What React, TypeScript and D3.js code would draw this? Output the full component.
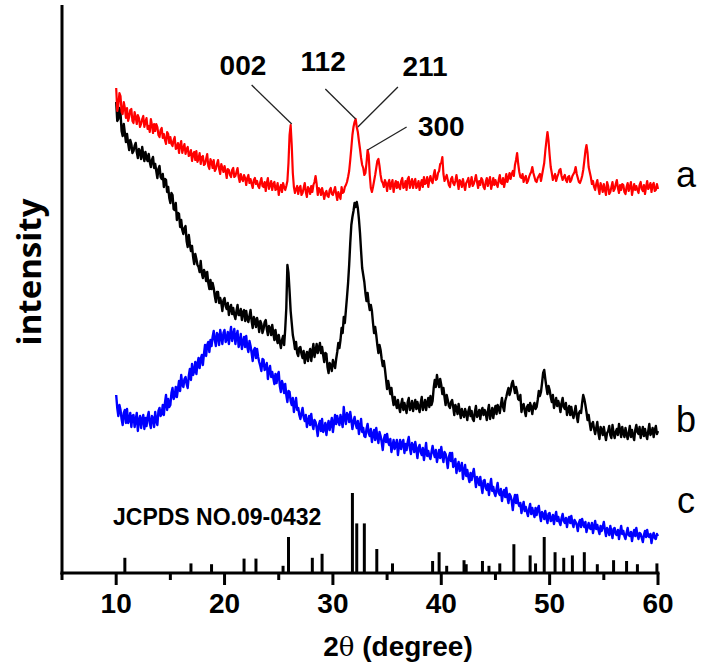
import React from "react";
import * as d3 from "d3";

// 2θ sampling grid of the measured patterns (degrees)
const THETA_START = 10;
const THETA_STEP = 0.1;

// a : red pattern (intensity, a.u.), one row per degree
const seriesA = [
  485, 462, 468, 480, 477, 461, 459, 471, 465, 455,
  465, 452, 456, 463, 464, 452, 450, 461, 456, 449,
  458, 455, 446, 449, 454, 457, 446, 451, 455, 444,
  447, 441, 454, 448, 440, 449, 442, 449, 446, 438,
  436, 443, 445, 435, 439, 433, 429, 441, 439, 430,
  436, 429, 427, 433, 436, 424, 425, 430, 420, 428,
  432, 420, 425, 429, 419, 424, 426, 417, 418, 423,
  412, 419, 421, 413, 422, 411, 414, 420, 409, 416,
  417, 408, 409, 414, 419, 407, 404, 414, 411, 405,
  413, 402, 404, 409, 413, 404, 399, 409, 405, 401,
  407, 402, 395, 404, 403, 398, 396, 403, 405, 396,
  397, 401, 405, 396, 391, 399, 394, 392, 398, 395,
  388, 395, 398, 390, 394, 389, 385, 393, 395, 389,
  392, 387, 385, 391, 395, 387, 386, 391, 382, 390,
  395, 384, 388, 392, 383, 389, 391, 383, 384, 390,
  378, 385, 388, 381, 390, 386, 383, 387, 392, 410,
  438, 448, 428, 400, 386, 380, 384, 387, 379, 385,
  387, 378, 380, 385, 390, 381, 376, 386, 384, 379,
  387, 381, 388, 391, 397, 389, 378, 385, 383, 378,
  385, 380, 374, 380, 382, 377, 376, 383, 385, 379,
  378, 382, 386, 379, 373, 381, 377, 374, 386, 380,
  381, 386, 388, 391, 396, 402, 413, 425, 438, 446,
  451, 454, 446, 441, 432, 424, 415, 408, 405, 398,
  400, 410, 423, 418, 398, 385, 381, 386, 392, 398,
  405, 412, 414, 407, 398, 392, 390, 386, 393, 390,
  382, 390, 393, 384, 389, 393, 381, 388, 392, 385,
  391, 386, 384, 392, 395, 385, 386, 392, 383, 394,
  396, 385, 390, 394, 385, 391, 394, 385, 387, 392,
  383, 389, 393, 386, 396, 389, 390, 396, 386, 393,
  397, 392, 390, 398, 403, 393, 394, 400, 402, 409,
  410, 416, 399, 392, 395, 398, 393, 388, 386, 394,
  396, 390, 388, 392, 398, 391, 384, 393, 391, 386,
  394, 388, 383, 390, 392, 395, 386, 390, 396, 387,
  389, 393, 398, 391, 385, 392, 388, 395, 393, 386,
  384, 391, 395, 387, 392, 396, 384, 389, 395, 388,
  393, 389, 386, 393, 398, 390, 389, 395, 386, 392,
  399, 391, 395, 400, 394, 399, 402, 397, 408, 413,
  420, 409, 401, 396, 395, 399, 391, 395, 397, 390,
  392, 396, 399, 401, 406, 400, 396, 392, 391, 395,
  397, 399, 392, 398, 404, 410, 422, 432, 441, 432,
  418, 406, 400, 393, 396, 399, 392, 396, 399, 403,
  404, 397, 393, 396, 398, 393, 391, 396, 397, 391,
  393, 397, 399, 401, 406, 399, 395, 391, 390, 393,
  397, 403, 412, 422, 428, 420, 406, 401, 396, 389,
  392, 386, 383, 389, 393, 385, 379, 390, 386, 381,
  389, 383, 378, 391, 387, 379, 381, 386, 391, 382,
  384, 389, 393, 385, 380, 388, 383, 389, 388, 381,
  379, 386, 390, 382, 386, 391, 378, 384, 389, 383,
  387, 383, 380, 388, 391, 384, 382, 388, 379, 386,
  392, 384, 386, 390, 381, 388, 390, 382, 383, 389,
  384,
];

// b : black pattern
const seriesB = [
  471, 452, 454, 465, 460, 442, 437, 449, 440, 431,
  439, 430, 423, 433, 429, 420, 422, 427, 430, 421,
  415, 424, 422, 414, 426, 418, 412, 421, 415, 412,
  419, 411, 406, 413, 416, 405, 409, 402, 395, 404,
  407, 396, 394, 399, 386, 394, 393, 381, 386, 375,
  370, 380, 378, 364, 363, 370, 353, 360, 359, 346,
  353, 343, 339, 345, 347, 332, 326, 338, 329, 322,
  327, 316, 309, 319, 314, 308, 306, 301, 312, 300,
  295, 303, 300, 292, 301, 290, 284, 293, 284, 290,
  285, 277, 271, 281, 281, 270, 275, 270, 262, 273,
  275, 267, 264, 270, 258, 265, 268, 259, 265, 258,
  254, 262, 268, 258, 258, 264, 253, 261, 263, 252,
  262, 254, 251, 257, 263, 252, 245, 256, 253, 246,
  255, 250, 241, 252, 249, 240, 244, 251, 253, 244,
  238, 247, 245, 238, 248, 240, 233, 243, 235, 230,
  238, 231, 225, 233, 237, 228, 244, 265, 308, 300,
  282, 262, 250, 238, 232, 224, 231, 220, 217, 225,
  226, 219, 215, 222, 210, 217, 221, 212, 220, 224,
  212, 221, 229, 216, 222, 229, 220, 225, 230, 220,
  226, 218, 211, 220, 219, 206, 200, 210, 208, 202,
  213, 209, 205, 214, 221, 230, 225, 233, 245, 240,
  256, 250, 263, 276, 290, 308, 330, 348, 356, 362,
  370, 366, 371, 365, 354, 340, 322, 305, 298, 291,
  280, 272, 280, 270, 263, 268, 262, 250, 240, 246,
  238, 228, 220, 228, 223, 214, 207, 212, 204, 194,
  184, 192, 186, 179, 185, 175, 168, 176, 170, 165,
  173, 166, 161, 169, 174, 163, 170, 165, 160, 171,
  175, 163, 166, 172, 162, 168, 173, 164, 171, 166,
  161, 170, 176, 163, 167, 173, 163, 170, 175, 166,
  177, 168, 172, 185, 193, 186, 198, 191, 186, 194,
  188, 179, 185, 176, 168, 178, 173, 167, 165, 171,
  173, 166, 158, 168, 165, 159, 169, 162, 155, 164,
  159, 156, 164, 160, 153, 162, 166, 157, 162, 154,
  152, 161, 167, 156, 158, 163, 154, 162, 165, 158,
  163, 160, 153, 162, 168, 154, 159, 165, 155, 163,
  167, 159, 168, 165, 160, 168, 175, 166, 162, 172,
  176, 181, 185, 178, 182, 189, 192, 186, 180, 186,
  181, 174, 173, 178, 161, 167, 169, 162, 157, 166,
  168, 162, 170, 166, 159, 167, 170, 164, 166, 173,
  182, 177, 181, 190, 200, 203, 194, 186, 179, 187,
  183, 176, 171, 178, 165, 170, 175, 167, 172, 168,
  161, 170, 175, 166, 164, 170, 158, 163, 167, 158,
  166, 159, 155, 161, 167, 157, 151, 160, 162, 160,
  170, 178, 174, 168, 161, 153, 158, 150, 143, 149,
  151, 144, 139, 145, 151, 140, 134, 146, 143, 138,
  146, 139, 133, 140, 142, 147, 138, 135, 148, 140,
  135, 141, 144, 138, 149, 143, 136, 146, 140, 136,
  145, 139, 134, 140, 147, 136, 143, 137, 133, 143,
  148, 141, 139, 146, 135, 141, 146, 137, 144, 138,
  134, 142, 149, 138, 140, 145, 136, 143, 147, 139,
  142,
];

// c : blue pattern
const seriesC = [
  178, 165, 157, 168, 163, 154, 148, 160, 163, 150,
  164, 150, 153, 160, 146, 157, 158, 146, 153, 160,
  142, 153, 157, 145, 154, 158, 144, 155, 147, 156,
  161, 150, 145, 157, 155, 146, 161, 152, 148, 162,
  165, 157, 159, 168, 158, 170, 178, 163, 174, 166,
  168, 180, 185, 174, 177, 186, 176, 184, 192, 182,
  198, 188, 186, 194, 196, 189, 185, 197, 204, 193,
  209, 198, 202, 211, 199, 209, 215, 205, 214, 218,
  208, 219, 228, 217, 228, 231, 221, 233, 227, 236,
  242, 233, 227, 240, 238, 228, 243, 236, 229, 240,
  243, 231, 234, 241, 229, 238, 246, 232, 238, 244,
  229, 237, 242, 226, 230, 239, 224, 231, 236, 226,
  237, 226, 221, 232, 227, 220, 212, 223, 225, 215,
  224, 216, 211, 207, 202, 214, 213, 203, 206, 210,
  194, 203, 207, 196, 201, 195, 189, 199, 190, 198,
  201, 187, 181, 192, 188, 180, 189, 178, 171, 182,
  181, 172, 168, 175, 161, 169, 175, 163, 165, 158,
  154, 160, 165, 156, 152, 158, 146, 152, 157, 148,
  159, 149, 144, 153, 151, 145, 137, 148, 152, 142,
  154, 141, 144, 150, 138, 147, 152, 143, 149, 155,
  141, 150, 158, 149, 157, 152, 148, 158, 152, 146,
  166, 155, 149, 160, 158, 151, 161, 153, 144, 152,
  156, 149, 145, 152, 139, 146, 154, 141, 145, 137,
  136, 144, 149, 140, 137, 144, 131, 139, 143, 133,
  145, 136, 130, 141, 137, 131, 123, 134, 138, 131,
  139, 131, 128, 134, 121, 127, 133, 124, 128, 133,
  118, 127, 133, 124, 130, 133, 120, 129, 123, 131,
  136, 125, 119, 130, 128, 121, 131, 124, 115, 125,
  128, 121, 118, 125, 113, 121, 130, 117, 122, 117,
  114, 121, 127, 120, 116, 123, 111, 117, 123, 115,
  126, 117, 111, 121, 119, 113, 105, 116, 120, 112,
  120, 106, 108, 114, 100, 107, 111, 102, 105, 110,
  94, 102, 108, 97, 103, 96, 91, 100, 93, 99,
  104, 95, 86, 96, 93, 88, 96, 87, 80, 92,
  93, 85, 83, 89, 78, 87, 94, 82, 86, 80,
  77, 84, 90, 80, 78, 84, 72, 80, 83, 76,
  85, 76, 70, 79, 77, 72, 63, 73, 78, 70,
  78, 70, 67, 70, 60, 66, 71, 62, 66, 61,
  57, 64, 69, 59, 65, 60, 56, 65, 58, 64,
  67, 58, 52, 61, 59, 54, 62, 55, 50, 59,
  60, 52, 53, 58, 49, 56, 61, 52, 56, 51,
  48, 55, 59, 52, 50, 55, 46, 53, 56, 50,
  57, 50, 46, 53, 51, 48, 42, 50, 53, 46,
  54, 49, 46, 51, 41, 46, 50, 45, 44, 50,
  40, 46, 52, 44, 48, 43, 39, 47, 42, 46,
  51, 43, 37, 45, 43, 38, 47, 41, 35, 44,
  45, 39, 38, 43, 34, 41, 47, 39, 42, 37,
  34, 40, 45, 38, 37, 41, 32, 39, 43, 37,
  45, 38, 34, 40, 39, 35, 31, 38, 42, 36,
  43, 37, 36, 39, 30, 37, 40, 35, 34, 39,
  37,
];

// JCPDS 09-0432 reference lines
const jcpdsTheta = [
  10.8, 16.9, 18.8, 21.8, 22.9, 25.4, 25.9, 28.1, 29.0, 31.8, 32.2, 32.9,
  34.05, 35.5, 39.2, 39.8, 40.5, 42.1, 42.3, 43.8, 44.4, 45.4, 46.7, 48.2,
  48.7, 49.5, 50.5, 51.3, 52.1, 53.2, 54.4, 55.9, 57.1, 58.1, 59.9,
];
const jcpdsIntensity = [
  19, 12, 11, 18, 18, 9, 45, 19, 24, 100, 62, 62,
  30, 12, 15, 26, 9, 16, 11, 15, 9, 12, 36, 22,
  12, 45, 26, 19, 22, 26, 11, 16, 15, 11, 12,
];

const xMajorTicks = [10, 20, 30, 40, 50, 60];
const xMinorTicks = [5, 15, 25, 35, 45, 55];

// peak annotations (in data coordinates)
const peakLabels = ["002", "112", "211", "300"];
const peakTheta = [26.2, 32.1, 32.3, 33.2];
const peakValue = [449, 454, 446, 423];
const lineFromTheta = [22.5, 29.3, 36.0, 36.8];
const lineFromValue = [488, 484, 486, 446];
const labelTheta = [21.7, 29.1, 38.5, 40.0];
const labelValue = [508, 512, 507, 447];

const seriesNames = ["a", "b", "c"];
const seriesLabelValue = [386, 141, 60];

const W = 707;
const H = 669;
const AX_LEFT = 62;
const AX_RIGHT = 658;
const AX_BOTTOM = 573;
const AX_TOP = 5;

export default function App() {
  const x = d3.scaleLinear().domain([5, 60]).range([AX_LEFT, AX_RIGHT]);
  const y = d3.scaleLinear().domain([0, 568]).range([AX_BOTTOM, AX_TOP]);
  const stickY = d3.scaleLinear().domain([0, 100]).range([AX_BOTTOM, AX_BOTTOM - 80]);

  const line = d3
    .line<number>()
    .x((_, i) => x(THETA_START + THETA_STEP * i))
    .y((d) => y(d));

  const font = "'Liberation Sans', Arial, sans-serif";

  return (
    <svg
      width={W}
      height={H}
      style={{ position: "absolute", left: 0, top: 0, background: "#fff" }}
    >
      <rect width={W} height={H} fill="#fff" />
      {/* curves */}
      <path d={line(seriesC) || ""} fill="none" stroke="#0000ff" strokeWidth={2.4} strokeLinejoin="round" />
      <path d={line(seriesB) || ""} fill="none" stroke="#000000" strokeWidth={2.4} strokeLinejoin="round" />
      <path d={line(seriesA) || ""} fill="none" stroke="#ff0000" strokeWidth={2.2} strokeLinejoin="round" />

      {/* JCPDS sticks */}
      {jcpdsTheta.map((t, i) => (
        <line
          key={"s" + i}
          x1={x(t)}
          x2={x(t)}
          y1={stickY(0)}
          y2={stickY(jcpdsIntensity[i])}
          stroke="#000"
          strokeWidth={3}
        />
      ))}
      <text x={113} y={525} fontFamily={font} fontWeight="bold" fontSize={23} fill="#000">
        JCPDS NO.09-0432
      </text>

      {/* axes */}
      <line x1={AX_LEFT} x2={AX_LEFT} y1={AX_TOP} y2={AX_BOTTOM + 1.5} stroke="#000" strokeWidth={3} />
      <line x1={AX_LEFT - 1.5} x2={AX_RIGHT + 1.5} y1={AX_BOTTOM} y2={AX_BOTTOM} stroke="#000" strokeWidth={3} />
      {xMajorTicks.map((t) => (
        <line key={"M" + t} x1={x(t)} x2={x(t)} y1={AX_BOTTOM} y2={AX_BOTTOM + 12} stroke="#000" strokeWidth={3} />
      ))}
      {xMinorTicks.map((t) => (
        <line key={"m" + t} x1={x(t)} x2={x(t)} y1={AX_BOTTOM} y2={AX_BOTTOM + 7} stroke="#000" strokeWidth={3} />
      ))}
      {xMajorTicks.map((t) => (
        <text
          key={"L" + t}
          x={x(t)}
          y={613}
          textAnchor="middle"
          fontFamily={font}
          fontWeight="bold"
          fontSize={28}
          fill="#000"
        >
          {t}
        </text>
      ))}
      <text x={398} y={656} textAnchor="middle" fontFamily={font} fontWeight="bold" fontSize={28} fill="#000">
        2<tspan fontWeight="normal" fontFamily="'DejaVu Serif', serif" fontSize={26}>θ</tspan> (degree)
      </text>
      <text
        transform={`translate(41, 272) rotate(-90)`}
        textAnchor="middle"
        fontFamily="'Open Sans', sans-serif"
        fontWeight="bold"
        fontSize={33}
        fill="#000"
      >
        intensity
      </text>

      {/* peak annotations */}
      {peakLabels.map((lab, i) => (
        <g key={"p" + lab}>
          <line
            x1={x(lineFromTheta[i])}
            y1={y(lineFromValue[i])}
            x2={x(peakTheta[i])}
            y2={y(peakValue[i])}
            stroke="#222"
            strokeWidth={1.3}
          />
          <text
            x={x(labelTheta[i])}
            y={y(labelValue[i]) + 10}
            textAnchor="middle"
            fontFamily={font}
            fontWeight="bold"
            fontSize={28}
            fill="#000"
          >
            {lab}
          </text>
        </g>
      ))}

      {/* series labels */}
      {seriesNames.map((n, i) => (
        <text
          key={"n" + n}
          x={686}
          y={y(seriesLabelValue[i])}
          textAnchor="middle"
          fontFamily={font}
          fontSize={36}
          fill="#000"
        >
          {n}
        </text>
      ))}
    </svg>
  );
}
